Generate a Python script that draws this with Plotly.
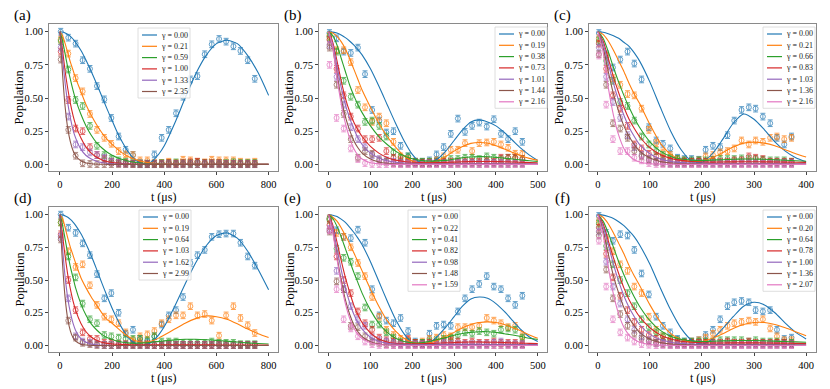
import plotly.graph_objects as go

W, H = 830, 389
COLORS = ["#1f77b4", "#ff7f0e", "#2ca02c", "#d62728", "#9467bd", "#8c564b", "#e377c2"]
FONT = "Liberation Serif, Times New Roman, serif"

Y_TICKS = [0.0, 0.25, 0.5, 0.75, 1.0]
Y_TICK_TEXT = ["0.00", "0.25", "0.50", "0.75", "1.00"]

# ---------------- panel (a) ----------------
A_GAMMA = ["0.00", "0.21", "0.59", "1.00", "1.33", "2.35"]
A_X_TICKS = [0, 200, 400, 600, 800]
A_T_FIT = [0, 10, 20, 30, 40, 50, 60, 80, 100, 120, 140, 160, 180, 200, 220, 240, 260, 280, 300, 320,
           340, 360, 380, 400, 440, 480, 520, 560, 600, 640, 680, 720, 760, 800]
A_FIT = [
    [1.0, 0.998, 0.99, 0.98, 0.965, 0.945, 0.92, 0.86, 0.785, 0.70, 0.61, 0.515, 0.42, 0.33, 0.24, 0.165, 0.10,
     0.05, 0.017, 0.002, 0.005, 0.035, 0.08, 0.14, 0.31, 0.50, 0.68, 0.82, 0.91, 0.935, 0.91, 0.82, 0.69, 0.52],
    [1.0, 0.97, 0.91, 0.84, 0.77, 0.71, 0.65, 0.55, 0.45, 0.37, 0.30, 0.24, 0.19, 0.15, 0.115, 0.085, 0.062,
     0.045, 0.03, 0.02, 0.013, 0.008, 0.005, 0.003, 0.002, 0.001, 0.001, 0.001, 0.001, 0.001, 0.001, 0.001, 0.001, 0.001],
    [1.0, 0.93, 0.83, 0.73, 0.64, 0.56, 0.49, 0.38, 0.29, 0.22, 0.165, 0.125, 0.093, 0.068, 0.05, 0.036, 0.026,
     0.018, 0.012, 0.008, 0.005, 0.003, 0.002, 0.001, 0.0, 0.0, 0.0, 0.0, 0.0, 0.0, 0.0, 0.0, 0.0, 0.0],
    [1.0, 0.86, 0.70, 0.57, 0.46, 0.37, 0.30, 0.20, 0.13, 0.085, 0.055, 0.035, 0.022, 0.014, 0.009, 0.006, 0.004,
     0.002, 0.001, 0.0, 0.0, 0.0, 0.0, 0.0, 0.0, 0.0, 0.0, 0.0, 0.0, 0.0, 0.0, 0.0, 0.0, 0.0],
    [1.0, 0.80, 0.61, 0.46, 0.35, 0.26, 0.20, 0.115, 0.067, 0.04, 0.024, 0.014, 0.008, 0.005, 0.003, 0.002, 0.001,
     0.0, 0.0, 0.0, 0.0, 0.0, 0.0, 0.0, 0.0, 0.0, 0.0, 0.0, 0.0, 0.0, 0.0, 0.0, 0.0, 0.0],
    [1.0, 0.68, 0.43, 0.27, 0.17, 0.105, 0.065, 0.027, 0.011, 0.005, 0.002, 0.001, 0.0, 0.0, 0.0, 0.0, 0.0,
     0.0, 0.0, 0.0, 0.0, 0.0, 0.0, 0.0, 0.0, 0.0, 0.0, 0.0, 0.0, 0.0, 0.0, 0.0, 0.0, 0.0],
]
A_T = [3, 32, 60, 87, 115, 142, 170, 197, 225, 252, 280, 307, 335, 362, 390, 417, 445, 472, 500, 527,
       555, 582, 610, 637, 665, 692, 720, 747]
A_PTS = [
    [1.00, 0.955, 0.91, 0.785, 0.72, 0.59, 0.49, 0.35, 0.21, 0.11, 0.07, 0.01, 0.005, 0.075, 0.20, 0.26, 0.385,
     0.51, 0.64, 0.665, 0.83, 0.905, 0.945, 0.925, 0.89, 0.855, 0.785, 0.645],
    [0.94, 0.835, 0.65, 0.55, 0.38, 0.26, 0.20, 0.155, 0.10, 0.075, 0.07, 0.03, 0.03, 0.01, 0.01, 0.02, 0.01,
     0.035, 0.03, 0.02, 0.015, 0.035, 0.03, 0.03, 0.03, 0.02, 0.015, 0.02],
    [0.93, 0.715, 0.485, 0.44, 0.29, 0.14, 0.07, 0.04, 0.03, 0.02, 0.01, 0.005, 0.005, 0.005, 0.01, 0.01, 0.015,
     0.01, 0.01, 0.015, 0.01, 0.01, 0.01, 0.01, 0.015, 0.01, 0.01, 0.01],
    [0.85, 0.485, 0.27, 0.25, 0.13, 0.07, 0.04, 0.02, 0.01, 0.01, 0.005, 0.005, 0.005, 0.005, 0.005, 0.01, 0.005,
     0.01, 0.015, 0.02, 0.01, 0.01, 0.01, 0.005, 0.005, 0.005, 0.005, 0.005],
    [0.88, 0.36, 0.15, 0.13, 0.09, 0.07, 0.05, 0.02, 0.01, 0.005, 0.005, 0.002, 0.002, 0.002, 0.002, 0.002, 0.002,
     0.002, 0.002, 0.002, 0.002, 0.002, 0.002, 0.002, 0.002, 0.002, 0.002, 0.002],
    [0.79, 0.26, 0.065, 0.008, 0.003, 0.002, 0.002, 0.002, 0.002, 0.002, 0.002, 0.001, 0.001, 0.001, 0.001, 0.001,
     0.001, 0.001, 0.001, 0.001, 0.001, 0.001, 0.001, 0.001, 0.001, 0.001, 0.001, 0.001],
]
A_ERR = 0.025

# ---------------- panel (b) ----------------
B_GAMMA = ["0.00", "0.19", "0.38", "0.73", "1.01", "1.44", "2.16"]
B_X_TICKS = [0, 100, 200, 300, 400, 500]
B_T_FIT = [0, 10, 20, 30, 40, 50, 60, 70, 80, 100, 120, 140, 160, 180, 200, 220, 240, 260, 280, 300,
           320, 340, 360, 380, 400, 420, 440, 460, 480, 500]
B_FIT = [
    [1.0, 0.997, 0.99, 0.975, 0.955, 0.93, 0.90, 0.865, 0.825, 0.72, 0.59, 0.45, 0.31, 0.18, 0.075, 0.012,
     0.008, 0.04, 0.10, 0.18, 0.26, 0.32, 0.335, 0.32, 0.29, 0.24, 0.18, 0.12, 0.07, 0.03],
    [1.0, 0.99, 0.965, 0.925, 0.87, 0.80, 0.72, 0.64, 0.56, 0.43, 0.31, 0.21, 0.13, 0.065, 0.025, 0.008,
     0.012, 0.03, 0.06, 0.10, 0.135, 0.158, 0.165, 0.16, 0.14, 0.115, 0.09, 0.065, 0.045, 0.03],
    [1.0, 0.97, 0.90, 0.80, 0.70, 0.60, 0.52, 0.45, 0.39, 0.29, 0.21, 0.15, 0.10, 0.065, 0.042, 0.03,
     0.025, 0.026, 0.03, 0.04, 0.05, 0.056, 0.058, 0.057, 0.053, 0.047, 0.04, 0.033, 0.027, 0.022],
    [1.0, 0.92, 0.78, 0.63, 0.50, 0.40, 0.32, 0.26, 0.21, 0.135, 0.085, 0.052, 0.032, 0.022, 0.016, 0.013,
     0.012, 0.013, 0.015, 0.017, 0.02, 0.021, 0.022, 0.022, 0.021, 0.02, 0.018, 0.016, 0.014, 0.012],
    [1.0, 0.90, 0.74, 0.58, 0.45, 0.35, 0.27, 0.20, 0.15, 0.085, 0.048, 0.027, 0.016, 0.01, 0.008, 0.007,
     0.007, 0.007, 0.007, 0.007, 0.007, 0.007, 0.007, 0.007, 0.006, 0.006, 0.006, 0.005, 0.005, 0.005],
    [1.0, 0.87, 0.68, 0.50, 0.36, 0.26, 0.18, 0.125, 0.085, 0.04, 0.018, 0.008, 0.004, 0.003, 0.002, 0.002,
     0.002, 0.002, 0.002, 0.002, 0.002, 0.002, 0.002, 0.002, 0.002, 0.002, 0.002, 0.002, 0.002, 0.002],
    [1.0, 0.88, 0.65, 0.46, 0.31, 0.20, 0.12, 0.07, 0.04, 0.012, 0.004, 0.001, 0.0, 0.0, 0.0, 0.0,
     0.0, 0.0, 0.0, 0.0, 0.0, 0.0, 0.0, 0.0, 0.0, 0.0, 0.0, 0.0, 0.0, 0.0],
]
B_T = [2, 19, 36, 53, 70, 87, 104, 121, 138, 155, 172, 190, 207, 224, 241, 258, 275, 292, 309, 326,
       343, 360, 378, 395, 412, 429, 446, 463]
B_PTS = [
    [0.99, 0.95, 0.85, 0.84, 0.88, 0.68, 0.41, 0.33, 0.24, 0.25, 0.14, 0.06, 0.02, 0.02, 0.03, 0.075, 0.13,
     0.23, 0.345, 0.245, 0.29, 0.315, 0.285, 0.34, 0.23, 0.19, 0.25, 0.17],
    [0.97, 0.86, 0.86, 0.77, 0.56, 0.43, 0.32, 0.36, 0.31, 0.17, 0.06, 0.04, 0.02, 0.015, 0.02, 0.03, 0.06,
     0.11, 0.11, 0.16, 0.10, 0.16, 0.165, 0.17, 0.15, 0.125, 0.08, 0.08],
    [0.96, 0.85, 0.63, 0.51, 0.45, 0.32, 0.33, 0.29, 0.21, 0.09, 0.05, 0.06, 0.02, 0.02, 0.02, 0.02, 0.03,
     0.04, 0.04, 0.05, 0.05, 0.04, 0.06, 0.05, 0.04, 0.05, 0.05, 0.04],
    [0.94, 0.72, 0.52, 0.36, 0.27, 0.19, 0.19, 0.20, 0.10, 0.05, 0.03, 0.02, 0.015, 0.01, 0.01, 0.015, 0.02,
     0.02, 0.02, 0.025, 0.02, 0.02, 0.03, 0.02, 0.05, 0.05, 0.05, 0.04],
    [0.90, 0.66, 0.45, 0.28, 0.19, 0.13, 0.07, 0.04, 0.03, 0.02, 0.01, 0.01, 0.01, 0.005, 0.01, 0.01, 0.01,
     0.005, 0.01, 0.01, 0.01, 0.005, 0.01, 0.01, 0.01, 0.005, 0.01, 0.01],
    [0.88, 0.60, 0.38, 0.19, 0.05, 0.10, 0.08, 0.03, 0.02, 0.01, 0.005, 0.005, 0.005, 0.005, 0.005, 0.005,
     0.005, 0.005, 0.005, 0.005, 0.005, 0.005, 0.005, 0.005, 0.005, 0.005, 0.005, 0.005],
    [0.75, 0.35, 0.27, 0.12, 0.04, 0.01, 0.003, 0.002, 0.002, 0.002, 0.002, 0.002, 0.002, 0.002, 0.002, 0.002,
     0.002, 0.002, 0.002, 0.002, 0.002, 0.002, 0.002, 0.002, 0.002, 0.002, 0.002, 0.002],
]
B_ERR = 0.025

# ---------------- panel (c) ----------------
C_GAMMA = ["0.00", "0.21", "0.66", "0.83", "1.03", "1.36", "2.16"]
C_X_TICKS = [0, 100, 200, 300, 400]
C_T_FIT = [0, 10, 20, 30, 40, 50, 60, 70, 80, 100, 120, 140, 160, 180, 200, 220, 240, 260, 280, 300,
           320, 340, 360, 380, 400]
C_FIT = [
    [1.0, 0.996, 0.985, 0.97, 0.95, 0.92, 0.89, 0.84, 0.78, 0.62, 0.43, 0.25, 0.11, 0.025, 0.015, 0.08,
     0.19, 0.31, 0.38, 0.34, 0.26, 0.17, 0.10, 0.05, 0.02],
    [1.0, 0.98, 0.93, 0.86, 0.78, 0.70, 0.61, 0.53, 0.46, 0.30, 0.16, 0.075, 0.035, 0.022, 0.028, 0.05,
     0.09, 0.13, 0.16, 0.168, 0.16, 0.14, 0.11, 0.08, 0.055],
    [1.0, 0.95, 0.85, 0.73, 0.62, 0.52, 0.43, 0.35, 0.28, 0.17, 0.10, 0.06, 0.04, 0.032, 0.03, 0.032,
     0.035, 0.038, 0.04, 0.04, 0.038, 0.035, 0.031, 0.027, 0.024],
    [1.0, 0.93, 0.80, 0.66, 0.54, 0.43, 0.34, 0.27, 0.21, 0.125, 0.075, 0.045, 0.03, 0.022, 0.018, 0.017,
     0.018, 0.019, 0.02, 0.02, 0.019, 0.018, 0.017, 0.016, 0.015],
    [1.0, 0.91, 0.76, 0.61, 0.48, 0.37, 0.28, 0.21, 0.15, 0.08, 0.04, 0.022, 0.013, 0.009, 0.008, 0.007,
     0.007, 0.007, 0.007, 0.006, 0.006, 0.006, 0.005, 0.005, 0.005],
    [1.0, 0.88, 0.70, 0.53, 0.40, 0.29, 0.21, 0.15, 0.10, 0.048, 0.022, 0.01, 0.005, 0.004, 0.003, 0.003,
     0.003, 0.003, 0.003, 0.003, 0.003, 0.003, 0.003, 0.003, 0.003],
    [1.0, 0.85, 0.58, 0.37, 0.22, 0.12, 0.065, 0.035, 0.018, 0.005, 0.002, 0.001, 0.0, 0.0, 0.0, 0.0,
     0.0, 0.0, 0.0, 0.0, 0.0, 0.0, 0.0, 0.0, 0.0],
]
C_T = [2, 16, 29, 43, 57, 70, 84, 98, 112, 125, 139, 153, 166, 180, 194, 207, 221, 235, 249, 262,
       276, 290, 303, 317, 331, 344, 358, 372]
C_PTS = [
    [0.99, 0.83, 0.73, 0.79, 0.85, 0.76, 0.64, 0.28, 0.18, 0.155, 0.12, 0.05, 0.04, 0.04, 0.035, 0.11, 0.14,
     0.13, 0.22, 0.33, 0.41, 0.43, 0.42, 0.36, 0.31, 0.20, 0.15, 0.21],
    [0.95, 0.82, 0.65, 0.60, 0.53, 0.52, 0.42, 0.26, 0.16, 0.09, 0.07, 0.04, 0.03, 0.02, 0.03, 0.06, 0.07,
     0.09, 0.10, 0.12, 0.18, 0.15, 0.18, 0.17, 0.20, 0.21, 0.19, 0.20],
    [0.93, 0.78, 0.63, 0.47, 0.44, 0.33, 0.21, 0.15, 0.10, 0.07, 0.05, 0.04, 0.03, 0.03, 0.03, 0.03, 0.035,
     0.04, 0.04, 0.04, 0.045, 0.04, 0.04, 0.035, 0.03, 0.03, 0.03, 0.02],
    [0.91, 0.72, 0.52, 0.42, 0.29, 0.15, 0.12, 0.08, 0.06, 0.04, 0.03, 0.02, 0.02, 0.02, 0.02, 0.02, 0.03,
     0.02, 0.02, 0.03, 0.03, 0.06, 0.05, 0.04, 0.02, 0.02, 0.02, 0.02],
    [0.88, 0.66, 0.47, 0.35, 0.22, 0.13, 0.07, 0.04, 0.02, 0.02, 0.01, 0.01, 0.01, 0.01, 0.01, 0.01, 0.01,
     0.01, 0.01, 0.01, 0.01, 0.01, 0.01, 0.01, 0.01, 0.01, 0.01, 0.01],
    [0.83, 0.60, 0.31, 0.27, 0.20, 0.10, 0.06, 0.03, 0.02, 0.01, 0.005, 0.005, 0.005, 0.005, 0.005, 0.005,
     0.005, 0.005, 0.005, 0.005, 0.005, 0.005, 0.005, 0.005, 0.005, 0.005, 0.005, 0.005],
    [0.82, 0.45, 0.19, 0.10, 0.10, 0.05, 0.03, 0.01, 0.003, 0.002, 0.002, 0.002, 0.002, 0.002, 0.002, 0.002,
     0.002, 0.002, 0.002, 0.002, 0.002, 0.002, 0.002, 0.002, 0.002, 0.002, 0.002, 0.002],
]
C_ERR = 0.025

# ---------------- panel (d) ----------------
D_GAMMA = ["0.00", "0.19", "0.64", "1.03", "1.62", "2.99"]
D_X_TICKS = [0, 200, 400, 600, 800]
D_T_FIT = [0, 10, 20, 30, 40, 50, 60, 80, 100, 120, 140, 160, 180, 200, 220, 240, 260, 280, 300, 320,
           340, 360, 380, 400, 440, 480, 520, 560, 600, 640, 680, 720, 760, 800]
D_FIT = [
    [1.0, 0.998, 0.99, 0.98, 0.963, 0.943, 0.918, 0.855, 0.775, 0.685, 0.585, 0.48, 0.38, 0.285, 0.20, 0.125,
     0.065, 0.025, 0.005, 0.002, 0.012, 0.04, 0.085, 0.145, 0.30, 0.47, 0.63, 0.76, 0.84, 0.86, 0.82, 0.72, 0.58, 0.425],
    [1.0, 0.97, 0.90, 0.82, 0.75, 0.69, 0.63, 0.52, 0.44, 0.37, 0.31, 0.25, 0.20, 0.17, 0.135, 0.10,
     0.07, 0.045, 0.03, 0.025, 0.028, 0.04, 0.058, 0.08, 0.125, 0.17, 0.205, 0.225, 0.22, 0.20, 0.165, 0.125, 0.09, 0.06],
    [1.0, 0.92, 0.81, 0.70, 0.60, 0.52, 0.44, 0.32, 0.23, 0.165, 0.12, 0.085, 0.06, 0.045, 0.033, 0.025,
     0.02, 0.018, 0.018, 0.02, 0.023, 0.027, 0.031, 0.036, 0.043, 0.047, 0.047, 0.044, 0.039, 0.033, 0.026, 0.02, 0.015, 0.011],
    [1.0, 0.84, 0.68, 0.54, 0.43, 0.34, 0.27, 0.17, 0.105, 0.065, 0.04, 0.025, 0.016, 0.011, 0.009, 0.007,
     0.006, 0.005, 0.005, 0.005, 0.005, 0.005, 0.005, 0.005, 0.005, 0.005, 0.005, 0.005, 0.004, 0.004, 0.004, 0.004, 0.004, 0.004],
    [1.0, 0.74, 0.52, 0.36, 0.25, 0.17, 0.115, 0.052, 0.024, 0.011, 0.005, 0.002, 0.001, 0.0, 0.0, 0.0,
     0.0, 0.0, 0.0, 0.0, 0.0, 0.0, 0.0, 0.0, 0.0, 0.0, 0.0, 0.0, 0.0, 0.0, 0.0, 0.0, 0.0, 0.0],
    [1.0, 0.62, 0.36, 0.20, 0.11, 0.06, 0.033, 0.01, 0.003, 0.001, 0.0, 0.0, 0.0, 0.0, 0.0, 0.0,
     0.0, 0.0, 0.0, 0.0, 0.0, 0.0, 0.0, 0.0, 0.0, 0.0, 0.0, 0.0, 0.0, 0.0, 0.0, 0.0, 0.0, 0.0],
]
D_T = [3, 32, 60, 87, 115, 142, 170, 197, 225, 252, 280, 307, 335, 362, 390, 417, 445, 472, 500, 527,
       555, 582, 610, 637, 665, 692, 720, 747]
D_PTS = [
    [1.00, 0.90, 0.86, 0.78, 0.69, 0.545, 0.36, 0.40, 0.25, 0.09, 0.12, 0.05, 0.03, 0.07, 0.16, 0.23, 0.27,
     0.37, 0.63, 0.69, 0.73, 0.83, 0.85, 0.855, 0.855, 0.785, 0.68, 0.61],
    [0.94, 0.72, 0.60, 0.62, 0.46, 0.31, 0.22, 0.20, 0.17, 0.10, 0.04, 0.07, 0.085, 0.11, 0.17, 0.20, 0.23,
     0.23, 0.30, 0.23, 0.24, 0.19, 0.075, 0.23, 0.30, 0.21, 0.155, 0.095],
    [0.94, 0.68, 0.52, 0.32, 0.20, 0.17, 0.08, 0.07, 0.06, 0.05, 0.05, 0.05, 0.04, 0.07, 0.03, 0.03, 0.03,
     0.02, 0.02, 0.02, 0.02, 0.03, 0.02, 0.02, 0.02, 0.01, 0.01, 0.01],
    [0.85, 0.50, 0.27, 0.10, 0.05, 0.05, 0.02, 0.02, 0.01, 0.01, 0.01, 0.01, 0.01, 0.005, 0.005, 0.005, 0.005,
     0.005, 0.005, 0.005, 0.005, 0.005, 0.005, 0.005, 0.005, 0.005, 0.005, 0.005],
    [0.83, 0.36, 0.07, 0.03, 0.02, 0.01, 0.005, 0.003, 0.003, 0.003, 0.003, 0.003, 0.003, 0.003, 0.003, 0.003,
     0.003, 0.003, 0.003, 0.003, 0.003, 0.003, 0.003, 0.003, 0.003, 0.003, 0.003, 0.003],
    [0.81, 0.19, 0.06, 0.02, 0.01, 0.003, 0.002, 0.002, 0.002, 0.002, 0.002, 0.002, 0.002, 0.002, 0.002, 0.002,
     0.002, 0.002, 0.002, 0.002, 0.002, 0.002, 0.002, 0.002, 0.002, 0.002, 0.002, 0.002],
]
D_ERR = 0.025

# ---------------- panel (e) ----------------
E_GAMMA = ["0.00", "0.22", "0.41", "0.82", "0.98", "1.48", "1.59"]
E_X_TICKS = [0, 100, 200, 300, 400, 500]
E_T_FIT = [0, 10, 20, 30, 40, 50, 60, 70, 80, 100, 120, 140, 160, 180, 200, 220, 240, 260, 280, 300,
           320, 340, 360, 380, 400, 420, 440, 460, 480, 500]
E_FIT = [
    [1.0, 0.995, 0.985, 0.965, 0.94, 0.905, 0.865, 0.82, 0.77, 0.64, 0.49, 0.34, 0.20, 0.09, 0.02, 0.003,
     0.02, 0.07, 0.14, 0.22, 0.30, 0.355, 0.37, 0.36, 0.32, 0.26, 0.19, 0.12, 0.065, 0.03],
    [1.0, 0.98, 0.95, 0.90, 0.84, 0.78, 0.71, 0.64, 0.57, 0.43, 0.30, 0.19, 0.11, 0.055, 0.025, 0.015,
     0.02, 0.04, 0.07, 0.10, 0.135, 0.16, 0.175, 0.18, 0.175, 0.16, 0.135, 0.11, 0.08, 0.055],
    [1.0, 0.97, 0.91, 0.83, 0.74, 0.65, 0.56, 0.48, 0.40, 0.27, 0.17, 0.10, 0.055, 0.03, 0.02, 0.02,
     0.03, 0.045, 0.06, 0.078, 0.092, 0.10, 0.105, 0.105, 0.10, 0.09, 0.08, 0.068, 0.055, 0.045],
    [1.0, 0.92, 0.79, 0.65, 0.52, 0.41, 0.31, 0.235, 0.175, 0.095, 0.05, 0.027, 0.016, 0.012, 0.012, 0.013,
     0.015, 0.017, 0.02, 0.022, 0.025, 0.026, 0.026, 0.025, 0.024, 0.022, 0.02, 0.018, 0.016, 0.015],
    [1.0, 0.90, 0.74, 0.58, 0.44, 0.33, 0.24, 0.175, 0.125, 0.063, 0.032, 0.017, 0.01, 0.008, 0.007, 0.007,
     0.007, 0.008, 0.008, 0.008, 0.008, 0.008, 0.008, 0.008, 0.007, 0.007, 0.007, 0.006, 0.006, 0.006],
    [1.0, 0.87, 0.68, 0.50, 0.35, 0.24, 0.16, 0.105, 0.068, 0.028, 0.011, 0.005, 0.003, 0.002, 0.002, 0.002,
     0.002, 0.002, 0.002, 0.002, 0.002, 0.002, 0.002, 0.002, 0.002, 0.002, 0.002, 0.002, 0.002, 0.002],
    [1.0, 0.86, 0.66, 0.47, 0.32, 0.21, 0.135, 0.085, 0.053, 0.02, 0.007, 0.003, 0.001, 0.0, 0.0, 0.0,
     0.0, 0.0, 0.0, 0.0, 0.0, 0.0, 0.0, 0.0, 0.0, 0.0, 0.0, 0.0, 0.0, 0.0],
]
E_T = [2, 19, 36, 53, 70, 87, 104, 121, 138, 155, 172, 190, 207, 224, 241, 258, 275, 292, 309, 326,
       343, 360, 378, 395, 412, 429, 446, 463]
E_PTS = [
    [0.97, 0.88, 0.83, 0.82, 0.885, 0.785, 0.43, 0.23, 0.19, 0.17, 0.21, 0.11, 0.03, 0.02, 0.09, 0.15, 0.16,
     0.15, 0.26, 0.36, 0.43, 0.47, 0.53, 0.45, 0.43, 0.36, 0.31, 0.38],
    [0.97, 0.86, 0.83, 0.75, 0.63, 0.53, 0.37, 0.22, 0.12, 0.08, 0.05, 0.04, 0.02, 0.03, 0.05, 0.06, 0.08,
     0.07, 0.14, 0.14, 0.14, 0.15, 0.21, 0.19, 0.17, 0.14, 0.15, 0.07],
    [0.96, 0.74, 0.67, 0.64, 0.53, 0.29, 0.16, 0.16, 0.10, 0.06, 0.03, 0.03, 0.02, 0.02, 0.03, 0.04, 0.05,
     0.06, 0.08, 0.10, 0.09, 0.11, 0.10, 0.09, 0.12, 0.13, 0.12, 0.06],
    [0.92, 0.68, 0.50, 0.40, 0.26, 0.17, 0.12, 0.06, 0.04, 0.03, 0.02, 0.05, 0.02, 0.01, 0.02, 0.02, 0.03,
     0.04, 0.03, 0.02, 0.03, 0.02, 0.02, 0.03, 0.02, 0.02, 0.02, 0.01],
    [0.89, 0.57, 0.43, 0.30, 0.20, 0.15, 0.06, 0.04, 0.03, 0.02, 0.01, 0.01, 0.01, 0.01, 0.01, 0.01, 0.02,
     0.01, 0.01, 0.01, 0.01, 0.01, 0.01, 0.02, 0.03, 0.01, 0.01, 0.01],
    [0.87, 0.49, 0.43, 0.15, 0.14, 0.07, 0.03, 0.02, 0.01, 0.005, 0.005, 0.005, 0.005, 0.005, 0.005, 0.005,
     0.005, 0.005, 0.005, 0.005, 0.005, 0.005, 0.005, 0.005, 0.005, 0.005, 0.005, 0.005],
    [0.88, 0.43, 0.20, 0.13, 0.07, 0.03, 0.01, 0.003, 0.002, 0.002, 0.002, 0.002, 0.002, 0.002, 0.002, 0.002,
     0.002, 0.002, 0.002, 0.002, 0.002, 0.002, 0.002, 0.002, 0.002, 0.002, 0.002, 0.002],
]
E_ERR = 0.025

# ---------------- panel (f) ----------------
F_GAMMA = ["0.00", "0.20", "0.64", "0.78", "1.00", "1.36", "2.07"]
F_X_TICKS = [0, 100, 200, 300, 400]
F_T_FIT = [0, 10, 20, 30, 40, 50, 60, 70, 80, 100, 120, 140, 160, 180, 200, 220, 240, 260, 280, 300,
           320, 340, 360, 380, 400]
F_FIT = [
    [1.0, 0.996, 0.985, 0.97, 0.945, 0.915, 0.875, 0.83, 0.77, 0.62, 0.44, 0.27, 0.13, 0.04, 0.01, 0.05,
     0.13, 0.22, 0.30, 0.33, 0.31, 0.25, 0.17, 0.10, 0.05],
    [1.0, 0.98, 0.93, 0.86, 0.78, 0.70, 0.61, 0.53, 0.46, 0.31, 0.18, 0.09, 0.045, 0.025, 0.03, 0.055,
     0.09, 0.13, 0.16, 0.175, 0.175, 0.16, 0.135, 0.105, 0.075],
    [1.0, 0.95, 0.86, 0.75, 0.64, 0.54, 0.45, 0.37, 0.30, 0.19, 0.115, 0.07, 0.045, 0.035, 0.03, 0.032,
     0.035, 0.037, 0.038, 0.038, 0.036, 0.033, 0.03, 0.027, 0.024],
    [1.0, 0.93, 0.80, 0.67, 0.55, 0.44, 0.35, 0.28, 0.22, 0.135, 0.08, 0.05, 0.032, 0.024, 0.02, 0.019,
     0.019, 0.02, 0.02, 0.02, 0.019, 0.018, 0.017, 0.016, 0.015],
    [1.0, 0.91, 0.77, 0.62, 0.49, 0.38, 0.29, 0.22, 0.16, 0.085, 0.045, 0.025, 0.015, 0.01, 0.008, 0.007,
     0.007, 0.007, 0.007, 0.006, 0.006, 0.006, 0.005, 0.005, 0.005],
    [1.0, 0.88, 0.70, 0.53, 0.40, 0.29, 0.21, 0.15, 0.10, 0.048, 0.022, 0.01, 0.005, 0.004, 0.003, 0.003,
     0.003, 0.003, 0.003, 0.003, 0.003, 0.003, 0.003, 0.003, 0.003],
    [1.0, 0.85, 0.60, 0.39, 0.24, 0.14, 0.08, 0.045, 0.025, 0.007, 0.002, 0.001, 0.0, 0.0, 0.0, 0.0,
     0.0, 0.0, 0.0, 0.0, 0.0, 0.0, 0.0, 0.0, 0.0],
]
F_T = [2, 16, 29, 43, 57, 70, 84, 98, 112, 125, 139, 153, 166, 180, 194, 207, 221, 235, 249, 262,
       276, 290, 303, 317, 331, 344, 358, 372]
F_PTS = [
    [0.99, 0.86, 0.80, 0.85, 0.84, 0.73, 0.55, 0.39, 0.22, 0.15, 0.10, 0.05, 0.03, 0.03, 0.04, 0.08, 0.12,
     0.20, 0.30, 0.33, 0.34, 0.33, 0.27, 0.26, 0.27, 0.12, 0.05, 0.06],
    [0.95, 0.82, 0.72, 0.62, 0.57, 0.45, 0.40, 0.22, 0.12, 0.07, 0.05, 0.03, 0.02, 0.03, 0.04, 0.06, 0.09,
     0.12, 0.15, 0.17, 0.18, 0.19, 0.18, 0.20, 0.13, 0.07, 0.04, 0.04],
    [0.93, 0.76, 0.62, 0.50, 0.40, 0.30, 0.20, 0.14, 0.10, 0.07, 0.05, 0.04, 0.03, 0.03, 0.03, 0.03, 0.03,
     0.04, 0.04, 0.04, 0.04, 0.03, 0.04, 0.03, 0.03, 0.03, 0.02, 0.02],
    [0.90, 0.70, 0.52, 0.38, 0.27, 0.18, 0.12, 0.08, 0.05, 0.04, 0.03, 0.02, 0.02, 0.02, 0.02, 0.02, 0.02,
     0.02, 0.03, 0.02, 0.02, 0.03, 0.02, 0.02, 0.02, 0.02, 0.02, 0.01],
    [0.87, 0.64, 0.45, 0.32, 0.20, 0.12, 0.07, 0.04, 0.02, 0.02, 0.01, 0.01, 0.01, 0.01, 0.01, 0.01, 0.01,
     0.01, 0.01, 0.01, 0.01, 0.01, 0.01, 0.01, 0.01, 0.01, 0.01, 0.01],
    [0.84, 0.58, 0.36, 0.24, 0.15, 0.09, 0.05, 0.03, 0.02, 0.01, 0.005, 0.005, 0.005, 0.005, 0.005, 0.005,
     0.005, 0.005, 0.005, 0.005, 0.005, 0.005, 0.005, 0.005, 0.005, 0.005, 0.005, 0.005],
    [0.80, 0.45, 0.20, 0.10, 0.06, 0.03, 0.01, 0.005, 0.002, 0.002, 0.002, 0.002, 0.002, 0.002, 0.002, 0.002,
     0.002, 0.002, 0.002, 0.002, 0.002, 0.002, 0.002, 0.002, 0.002, 0.002, 0.002, 0.002],
]
F_ERR = 0.025

PANELS = [
    dict(label="(a)", gamma=A_GAMMA, tfit=A_T_FIT, fit=A_FIT, t=A_T, pts=A_PTS, err=A_ERR, xticks=A_X_TICKS),
    dict(label="(b)", gamma=B_GAMMA, tfit=B_T_FIT, fit=B_FIT, t=B_T, pts=B_PTS, err=B_ERR, xticks=B_X_TICKS),
    dict(label="(c)", gamma=C_GAMMA, tfit=C_T_FIT, fit=C_FIT, t=C_T, pts=C_PTS, err=C_ERR, xticks=C_X_TICKS),
    dict(label="(d)", gamma=D_GAMMA, tfit=D_T_FIT, fit=D_FIT, t=D_T, pts=D_PTS, err=D_ERR, xticks=D_X_TICKS),
    dict(label="(e)", gamma=E_GAMMA, tfit=E_T_FIT, fit=E_FIT, t=E_T, pts=E_PTS, err=E_ERR, xticks=E_X_TICKS),
    dict(label="(f)", gamma=F_GAMMA, tfit=F_T_FIT, fit=F_FIT, t=F_T, pts=F_PTS, err=F_ERR, xticks=F_X_TICKS),
]

# layout geometry in pixels: axes box (left, top, right, bottom), x range, legend box origin
GEOM = [
    dict(box=(49, 24, 278, 171), xr=(-42, 836), leg=(138, 28)),
    dict(box=(319, 24, 547, 171), xr=(-23, 522), leg=(495, 27)),
    dict(box=(589, 24, 816, 171), xr=(-17, 419), leg=(763, 27)),
    dict(box=(49, 207, 278, 352), xr=(-42, 836), leg=(139, 210)),
    dict(box=(319, 207, 547, 352), xr=(-23, 522), leg=(408, 210)),
    dict(box=(589, 207, 816, 352), xr=(-17, 419), leg=(763, 210)),
]
Y_RANGE = (-0.05, 1.058)


def px(x):
    return x / W


def py(y):
    return 1 - y / H


fig = go.Figure()
shapes = []
annotations = []
layout_axes = {}

for i, (p, g) in enumerate(zip(PANELS, GEOM)):
    n = i + 1
    xa = "x" if n == 1 else f"x{n}"
    ya = "y" if n == 1 else f"y{n}"
    for k, gam in enumerate(p["gamma"]):
        col = COLORS[k]
        fig.add_trace(go.Scatter(
            x=p["t"], y=p["pts"][k], mode="markers", xaxis=xa, yaxis=ya, showlegend=False,
            opacity=0.7,
            marker=dict(symbol="circle-open", size=5, color=col, line=dict(width=1, color=col)),
            error_y=dict(type="constant", value=p["err"], thickness=1, width=2.5, color=col),
        ))
    for k, gam in enumerate(p["gamma"]):
        col = COLORS[k]
        fig.add_trace(go.Scatter(
            x=p["tfit"], y=p["fit"][k], mode="lines", xaxis=xa, yaxis=ya, showlegend=False,
            line=dict(color=col, width=1.1, shape="spline", smoothing=0.7),
        ))

    l, t, r, b = g["box"]
    axis_common = dict(showline=True, mirror=True, linecolor="#8a8a8a", linewidth=1,
                       ticks="outside", ticklen=3, tickwidth=0.8, tickcolor="#444",
                       showgrid=False, zeroline=False,
                       tickfont=dict(family=FONT, size=10.5, color="black"))
    layout_axes["xaxis" if n == 1 else f"xaxis{n}"] = dict(
        domain=[px(l), px(r)], range=list(g["xr"]), anchor=ya,
        tickvals=p["xticks"], ticktext=[str(v) for v in p["xticks"]], **axis_common)
    layout_axes["yaxis" if n == 1 else f"yaxis{n}"] = dict(
        domain=[py(b), py(t)], range=list(Y_RANGE), anchor=xa,
        tickvals=Y_TICKS, ticktext=Y_TICK_TEXT, **axis_common)

    # axis titles & panel label
    annotations.append(dict(text="Population", x=px(l - 30), y=py((t + b) / 2), xref="paper", yref="paper",
                            textangle=-90, showarrow=False, xanchor="center", yanchor="middle",
                            font=dict(family=FONT, size=12.5, color="black")))
    annotations.append(dict(text="t (μs)", x=px((l + r) / 2), y=py(b + 25.5), xref="paper", yref="paper",
                            showarrow=False, xanchor="center", yanchor="middle",
                            font=dict(family=FONT, size=12, color="black")))
    annotations.append(dict(text=p["label"], x=px(l - 26.5), y=py(t - 8), xref="paper", yref="paper",
                            showarrow=False, xanchor="center", yanchor="middle",
                            font=dict(family=FONT, size=15, color="black")))

    # legend box
    lx, ly = g["leg"]
    ng = len(p["gamma"])
    row = 11.3
    shapes.append(dict(type="rect", xref="paper", yref="paper", x0=px(lx), x1=px(lx + 52),
                       y0=py(ly), y1=py(ly + 7 + (ng - 1) * row + 6.5),
                       line=dict(color="#d6d6d6", width=0.8), fillcolor="rgba(255,255,255,0.85)", layer="above"))
    for k, gam in enumerate(p["gamma"]):
        yk = ly + 7 + k * row
        shapes.append(dict(type="line", xref="paper", yref="paper", x0=px(lx + 4), x1=px(lx + 19),
                           y0=py(yk), y1=py(yk), line=dict(color=COLORS[k], width=1.2), layer="above"))
        annotations.append(dict(text=f"γ = {gam}", x=px(lx + 22), y=py(yk), xref="paper", yref="paper",
                                showarrow=False, xanchor="left", yanchor="middle", borderpad=0,
                                font=dict(family=FONT, size=8, color="#222")))

fig.update_layout(
    width=W, height=H, margin=dict(l=0, r=0, t=0, b=0),
    paper_bgcolor="white", plot_bgcolor="white",
    shapes=shapes, annotations=annotations, showlegend=False,
    **layout_axes,
)

fig.write_html("out.html", config={"displayModeBar": False},
               post_script="document.body.style.margin='0';document.body.style.padding='0';")
